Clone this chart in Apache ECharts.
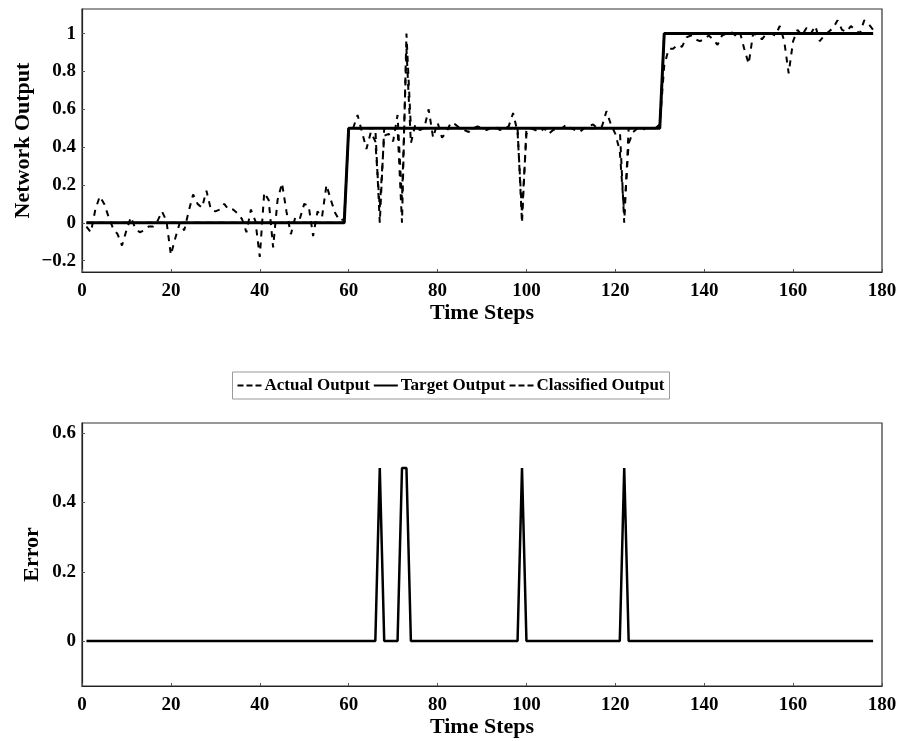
<!DOCTYPE html>
<html>
<head>
<meta charset="utf-8">
<script src="https://cdn.jsdelivr.net/npm/echarts@6/dist/echarts.min.js"></script>
<style>
html,body{margin:0;padding:0;background:#fff;}
#chart{width:902px;height:741px;}
</style>
</head>
<body>
<div id="chart"></div>
<script>
// Actual network output, time steps 1..178
const actualOutput = [
  -0.02,-0.05,0.07,0.14,0.10,0.03,-0.03,-0.06,-0.12,-0.04,
  0.03,-0.03,-0.05,-0.04,-0.02,-0.02,0.01,0.06,0.01,-0.17,
  -0.08,0.00,-0.04,0.06,0.15,0.10,0.08,0.17,0.07,0.06,
  0.07,0.10,0.07,0.07,0.05,0.02,-0.05,0.07,0.01,-0.18,
  0.16,0.12,-0.13,0.12,0.21,0.06,-0.06,0.03,0.02,0.10,
  0.09,-0.07,0.06,0.03,0.20,0.12,0.05,0.01,0.02,0.48,
  0.50,0.57,0.48,0.39,0.48,0.43,0.08,0.46,0.47,0.43,
  0.57,0.12,0.92,0.42,0.52,0.49,0.50,0.60,0.45,0.53,
  0.45,0.48,0.53,0.52,0.50,0.49,0.48,0.50,0.51,0.50,
  0.49,0.50,0.51,0.49,0.50,0.51,0.58,0.48,0.05,0.47,
  0.50,0.49,0.48,0.50,0.47,0.49,0.50,0.50,0.52,0.50,
  0.49,0.48,0.50,0.51,0.52,0.50,0.51,0.59,0.52,0.47,
  0.38,0.05,0.42,0.48,0.50,0.49,0.50,0.50,0.50,0.52,
  0.83,0.92,0.92,0.94,0.93,0.98,0.99,0.97,0.96,0.97,
  0.99,0.97,0.94,0.99,1.00,1.01,0.99,1.01,0.92,0.84,
  1.00,0.99,0.97,1.00,1.00,0.99,1.04,0.96,0.79,0.96,
  1.02,0.99,1.03,1.00,1.04,0.96,0.99,1.01,1.03,1.07,
  1.02,1.01,1.04,1.02,1.00,1.07,1.05,1.02
];
// Target output vertices [time step, value]
const targetOutput = [[1,0],[59,0],[60,0.5],[130,0.5],[131,1],[178,1]];
// Classified output vertices [time step, value]
const classifiedOutput = [[1,0],[59,0],[60,0.5],[66,0.5],[67,0],[68,0.5],[71,0.5],[72,0],[73,1],[74,0.5],
  [98,0.5],[99,0],[100,0.5],[121,0.5],[122,0],[123,0.5],[130,0.5],[131,1],[178,1]];
// Classification error vertices [time step, value]
const errorValues = [[1,0],[66,0],[67,0.5],[68,0],[71,0],[72,0.5],[73,0.5],[74,0],[98,0],[99,0.5],[100,0],
  [121,0],[122,0.5],[123,0],[178,0]];
const yTicksTop = [-0.2,0,0.2,0.4,0.6,0.8,1];
const yTicksBottom = [0,0.2,0.4,0.6];
const legendNames = ['Actual Output','Target Output','Classified Output'];

const FONT = 'Liberation Serif';
const labelStyle = {fontFamily: FONT, fontWeight: 'bold', fontSize: 19, color: '#000'};
const nameStyle = {fontFamily: FONT, fontWeight: 'bold', fontSize: 22, color: '#000'};
const DASH_ICON = 'path://M0,0h6v2h-6zM9,0h6v2h-6zM18,0h6v2h-6z';
const SOLID_ICON = 'path://M0,0h24v2h-24z';
const fmtNum = v => String(v).replace('-', '\u2212');

function xAxis(gi){
  return {
    type:'value', gridIndex: gi, min:0, max:180, interval:20,
    name:'Time Steps', nameLocation:'middle', nameGap:30, nameTextStyle:nameStyle,
    nameMoveOverlap:false,
    axisLine:{show:true, onZero:false, lineStyle:{color:'#222', width:1.2}},
    axisTick:{show:true, inside:true, length:3, lineStyle:{color:'#555'}},
    axisLabel:Object.assign({margin:10}, labelStyle),
    splitLine:{show:false}
  };
}

const chart = echarts.init(document.getElementById('chart'), null, {renderer:'canvas'});
chart.setOption({
  backgroundColor:'#fff',
  animation:false,
  grid:[
    {left:82, top:9, width:800, height:263, show:true, borderColor:'#333', borderWidth:1.2, containLabel:false, outerBoundsMode:'none'},
    {left:82, top:423, width:800, height:263, show:true, borderColor:'#333', borderWidth:1.2, containLabel:false, outerBoundsMode:'none'}
  ],
  legend:{
    top:372, left:'center',
    data:[
      {name:legendNames[0], icon:DASH_ICON},
      {name:legendNames[1], icon:SOLID_ICON},
      {name:legendNames[2], icon:DASH_ICON}
    ],
    itemWidth:24, itemHeight:2, itemGap:4,
    padding:[5,5,5,5],
    borderColor:'#999', borderWidth:1,
    itemStyle:{color:'#000'},
    textStyle:{fontFamily:FONT, fontWeight:'bold', fontSize:17, color:'#000', padding:[0,0,0,-2]}
  },
  xAxis:[xAxis(0), xAxis(1)],
  yAxis:[
    {type:'value', gridIndex:0, min:-0.26, max:1.13,
     name:'Network Output', nameLocation:'middle', nameGap:48, nameTextStyle:nameStyle,
     nameMoveOverlap:false,
     axisLine:{show:true, onZero:false, lineStyle:{color:'#222', width:1.2}},
     axisTick:{show:true, inside:true, length:3, customValues:yTicksTop, lineStyle:{color:'#555'}},
     axisLabel:Object.assign({margin:6, customValues:yTicksTop, formatter:fmtNum}, labelStyle),
     splitLine:{show:false}},
    {type:'value', gridIndex:1, min:-0.13, max:0.63,
     name:'Error', nameLocation:'middle', nameGap:39, nameTextStyle:nameStyle,
     nameMoveOverlap:false,
     axisLine:{show:true, onZero:false, lineStyle:{color:'#222', width:1.2}},
     axisTick:{show:true, inside:true, length:3, customValues:yTicksBottom, lineStyle:{color:'#555'}},
     axisLabel:Object.assign({margin:6, customValues:yTicksBottom, formatter:fmtNum}, labelStyle),
     splitLine:{show:false}}
  ],
  series:[
    {name:legendNames[0], type:'line', xAxisIndex:0, yAxisIndex:0,
     data: actualOutput.map((v,i)=>[i+1, v]),
     showSymbol:false, symbol:'none',
     lineStyle:{color:'#000', width:2, type:[6,6]}, itemStyle:{color:'#000'}},
    {name:legendNames[1], type:'line', xAxisIndex:0, yAxisIndex:0,
     data: targetOutput, showSymbol:false, symbol:'none',
     lineStyle:{color:'#000', width:3, type:'solid'}, itemStyle:{color:'#000'}},
    {name:legendNames[2], type:'line', xAxisIndex:0, yAxisIndex:0,
     data: classifiedOutput, showSymbol:false, symbol:'none',
     lineStyle:{color:'#000', width:2, type:[6,6]}, itemStyle:{color:'#000'}},
    {name:'Error', type:'line', xAxisIndex:1, yAxisIndex:1,
     data: errorValues, showSymbol:false, symbol:'none',
     lineStyle:{color:'#000', width:2.5}, itemStyle:{color:'#000'}}
  ]
});
</script>
</body>
</html>
